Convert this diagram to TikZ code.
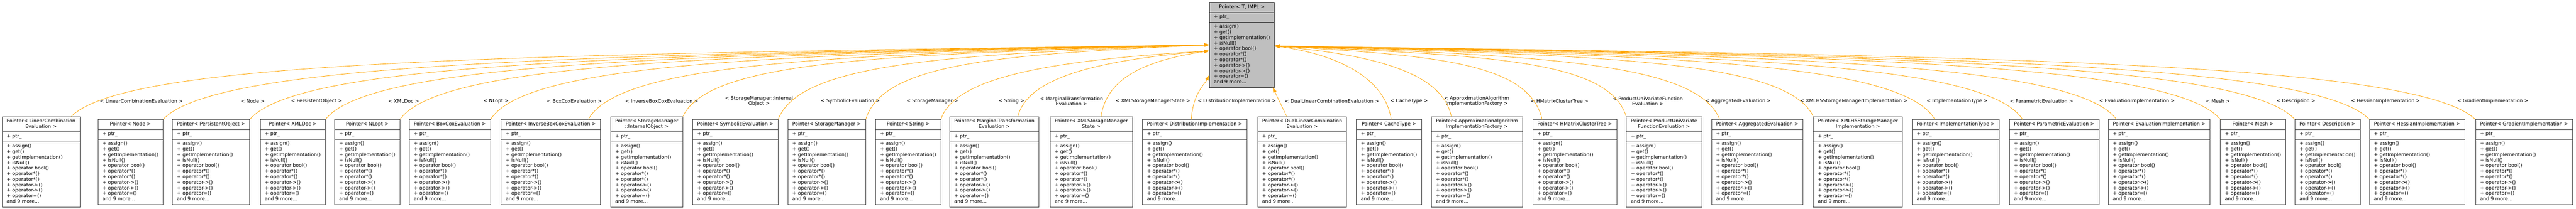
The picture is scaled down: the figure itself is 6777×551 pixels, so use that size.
\documentclass[tikz,border=0pt]{standalone}
\usepackage{fontspec}
\setmainfont{DejaVu Sans}
\usetikzlibrary{shapes.multipart,arrows.meta}
\definecolor{doxorange}{HTML}{FFA500}
\newcommand{\ptrops}{\begin{tabular}{@{}l@{}}+ assign()\\+ get()\\+ getImplementation()\\+ isNull()\\+ operator bool()\\+ operator*()\\+ operator*()\\+ operator->()\\+ operator->()\\+ operator=()\\and 9 more...\end{tabular}}
\newcommand{\ptrparts}[1]{\begin{tabular}{@{}c@{}}#1\end{tabular}\nodepart{two}\begin{tabular}{@{}l@{}}+ ptr\_\end{tabular}\nodepart{three}\ptrops}
\begin{document}
\begin{tikzpicture}[
    x=1pt, y=-1pt,
    ptrbox/.style={rectangle split, rectangle split parts=3,
        rectangle split part align={center,left,left}, draw=black!75,
        line width=1pt, inner xsep=12pt, inner ysep=5.2pt, anchor=north west,
        font=\fontsize{12.8}{14.6}\selectfont},
    rootbox/.style={ptrbox, fill=black!25, draw=black!85},
    inst/.style={draw=doxorange, line width=1.1pt, -{Triangle[length=13.3pt,width=8.9pt]}, fill=none},
    targ/.style={font=\fontsize{12.8}{14.6}\selectfont, align=center, inner sep=0pt}
]
    \useasboundingbox (0,0) rectangle (6777,551);

    \node[rootbox] (ptr) at (3181,6) {\ptrparts{Pointer< T, IMPL >}};

    \node[ptrbox] (lce) at (5,307) {\ptrparts{Pointer< LinearCombination\\Evaluation >}};
    \node[ptrbox] (nde) at (257,315) {\ptrparts{Pointer< Node >}};
    \node[ptrbox] (pobj) at (453,315) {\ptrparts{Pointer< PersistentObject >}};
    \node[ptrbox] (xmldoc) at (684,315) {\ptrparts{Pointer< XMLDoc >}};
    \node[ptrbox] (nlopt) at (880,315) {\ptrparts{Pointer< NLopt >}};
    \node[ptrbox] (boxcox) at (1076,315) {\ptrparts{Pointer< BoxCoxEvaluation >}};
    \node[ptrbox] (iboxcox) at (1318,315) {\ptrparts{Pointer< InverseBoxCoxEvaluation >}};
    \node[ptrbox] (smio) at (1606,307) {\ptrparts{Pointer< StorageManager\\::InternalObject >}};
    \node[ptrbox] (symb) at (1822,315) {\ptrparts{Pointer< SymbolicEvaluation >}};
    \node[ptrbox] (smgr) at (2072,315) {\ptrparts{Pointer< StorageManager >}};
    \node[ptrbox] (str) at (2303,315) {\ptrparts{Pointer< String >}};
    \node[ptrbox] (margt) at (2498,307) {\ptrparts{Pointer< MarginalTransformation\\Evaluation >}};
    \node[ptrbox] (xsms) at (2762,307) {\ptrparts{Pointer< XMLStorageManager\\State >}};
    \node[ptrbox] (dist) at (3005,315) {\ptrparts{Pointer< DistributionImplementation >}};
    \node[ptrbox] (dlce) at (3308,307) {\ptrparts{Pointer< DualLinearCombination\\Evaluation >}};
    \node[ptrbox] (cache) at (3568,315) {\ptrparts{Pointer< CacheType >}};
    \node[ptrbox] (aaif) at (3765,307) {\ptrparts{Pointer< ApproximationAlgorithm\\ImplementationFactory >}};
    \node[ptrbox] (hmct) at (4032,315) {\ptrparts{Pointer< HMatrixClusterTree >}};
    \node[ptrbox] (puvfe) at (4278,307) {\ptrparts{Pointer< ProductUniVariate\\FunctionEvaluation >}};
    \node[ptrbox] (aggr) at (4502,315) {\ptrparts{Pointer< AggregatedEvaluation >}};
    \node[ptrbox] (xh5) at (4770,307) {\ptrparts{Pointer< XMLH5StorageManager\\Implementation >}};
    \node[ptrbox] (itype) at (5030,315) {\ptrparts{Pointer< ImplementationType >}};
    \node[ptrbox] (param) at (5286,315) {\ptrparts{Pointer< ParametricEvaluation >}};
    \node[ptrbox] (evimpl) at (5546,315) {\ptrparts{Pointer< EvaluationImplementation >}};
    \node[ptrbox] (mesh) at (5841,315) {\ptrparts{Pointer< Mesh >}};
    \node[ptrbox] (descr) at (6037,315) {\ptrparts{Pointer< Description >}};
    \node[ptrbox] (hess) at (6233,315) {\ptrparts{Pointer< HessianImplementation >}};
    \node[ptrbox] (grad) at (6512,315) {\ptrparts{Pointer< GradientImplementation >}};

    \node[targ] (tlce) at (372,267) {< LinearCombinationEvaluation >};
    \node[targ] (tnde) at (665,267) {< Node >};
    \node[targ] (tpobj) at (833,267) {< PersistentObject >};
    \node[targ] (txmldoc) at (1062,267) {< XMLDoc >};
    \node[targ] (tnlopt) at (1305,267) {< NLopt >};
    \node[targ] (tboxcox) at (1511,267) {< BoxCoxEvaluation >};
    \node[targ] (tiboxcox) at (1741,267) {< InverseBoxCoxEvaluation >};
    \node[targ] (tsmio) at (1997,267) {< StorageManager::Internal\\Object >};
    \node[targ] (tsymb) at (2237,267) {< SymbolicEvaluation >};
    \node[targ] (tsmgr) at (2453,267) {< StorageManager >};
    \node[targ] (tstr) at (2661,267) {< String >};
    \node[targ] (tmargt) at (2819,267) {< MarginalTransformation\\Evaluation >};
    \node[targ] (txsms) at (3033,267) {< XMLStorageManagerState >};
    \node[targ] (tdist) at (3254,267) {< DistributionImplementation >};
    \node[targ] (tdlce) at (3504,267) {< DualLinearCombinationEvaluation >};
    \node[targ] (tcache) at (3707,267) {< CacheType >};
    \node[targ] (taaif) at (3885,267) {< ApproximationAlgorithm\\ImplementationFactory >};
    \node[targ] (thmct) at (4103,267) {< HMatrixClusterTree >};
    \node[targ] (tpuvfe) at (4335,267) {< ProductUniVariateFunction\\Evaluation >};
    \node[targ] (taggr) at (4573,267) {< AggregatedEvaluation >};
    \node[targ] (txh5) at (4877,267) {< XMLH5StorageManagerImplementation >};
    \node[targ] (titype) at (5149,267) {< ImplementationType >};
    \node[targ] (tparam) at (5371,267) {< ParametricEvaluation >};
    \node[targ] (tevimpl) at (5622,267) {< EvaluationImplementation >};
    \node[targ] (tmesh) at (5835,267) {< Mesh >};
    \node[targ] (tdescr) at (6040,267) {< Description >};
    \node[targ] (thess) at (6276,267) {< HessianImplementation >};
    \node[targ] (tgrad) at (6558,267) {< GradientImplementation >};

    \draw[inst] ([xshift=183pt]lce.north west) .. controls +(150,-150) and +(-1796,25) .. (ptr.west);
    \draw[inst] (nde.north east) .. controls +(138,-150) and +(-1651,25) .. (ptr.west);
    \draw[inst] (pobj.north east) .. controls +(126,-150) and +(-1514,25) .. (ptr.west);
    \draw[inst] (xmldoc.north east) .. controls +(116,-150) and +(-1395,25) .. (ptr.west);
    \draw[inst] (nlopt.north east) .. controls +(106,-150) and +(-1277,25) .. (ptr.west);
    \draw[inst] (boxcox.north east) .. controls +(94,-150) and +(-1133,25) .. (ptr.west);
    \draw[inst] ([xshift=230pt]iboxcox.north west) .. controls +(82,-150) and +(-980,25) .. (ptr.west);
    \draw[inst] (smio.north east) .. controls +(69,-150) and +(-830,25) .. (ptr.west);
    \draw[inst] (symb.north east) .. controls +(57,-150) and +(-680,25) .. (ptr.west);
    \draw[inst] (smgr.north east) .. controls +(45,-150) and +(-542,25) .. (ptr.west);
    \draw[inst] (str.north east) .. controls +(35,-110) and +(-424,25) .. ([yshift=-16pt]ptr.west);
    \draw[inst] ([xshift=180pt]margt.north west) .. controls +(25,-100) and +(-302,25) .. ([yshift=-16pt]ptr.west);
    \draw[inst] ([xshift=135pt]xsms.north west) .. controls +(14,-100) and +(-170,25) .. ([yshift=-16pt]ptr.west);
    \draw[inst] ([xshift=129pt]dist.north west) .. controls +(5,-70) and +(-12,25) .. ([yshift=-80pt]ptr.west);
    \draw[inst] ([xshift=77pt]dlce.north west) -- ([xshift=-5pt]ptr.south east);
    \draw[inst] ([xshift=92pt]cache.north west) .. controls +(-15,-100) and +(184,25) .. ([yshift=-3pt]ptr.east);
    \draw[inst] ([xshift=53pt]aaif.north west) .. controls +(-23,-110) and +(279,25) .. ([yshift=-3pt]ptr.east);
    \draw[inst] ([xshift=25pt]hmct.north west) .. controls +(-35,-150) and +(422,25) .. ([yshift=-3pt]ptr.east);
    \draw[inst] (puvfe.north west) .. controls +(-46,-150) and +(555,25) .. ([yshift=-3pt]ptr.east);
    \draw[inst] ([xshift=22pt]aggr.north west) .. controls +(-59,-150) and +(703,25) .. ([yshift=-3pt]ptr.east);
    \draw[inst] (xh5.north west) .. controls +(-71,-150) and +(850,25) .. ([yshift=-3pt]ptr.east);
    \draw[inst] ([xshift=60pt]itype.north west) .. controls +(-87,-150) and +(1042,25) .. ([yshift=-3pt]ptr.east);
    \draw[inst] ([xshift=35pt]param.north west) .. controls +(-98,-150) and +(1181,25) .. ([yshift=-3pt]ptr.east);
    \draw[inst] ([xshift=22pt]evimpl.north west) .. controls +(-111,-150) and +(1329,25) .. ([yshift=-3pt]ptr.east);
    \draw[inst] (mesh.north west) .. controls +(-124,-150) and +(1493,25) .. ([yshift=-3pt]ptr.east);
    \draw[inst] (descr.north west) .. controls +(-134,-150) and +(1610,25) .. ([yshift=-3pt]ptr.east);
    \draw[inst] (hess.north west) .. controls +(-144,-150) and +(1728,25) .. ([yshift=-3pt]ptr.east);
    \draw[inst] (grad.north west) .. controls +(-158,-150) and +(1895,25) .. ([yshift=-3pt]ptr.east);
\end{tikzpicture}
\end{document}
